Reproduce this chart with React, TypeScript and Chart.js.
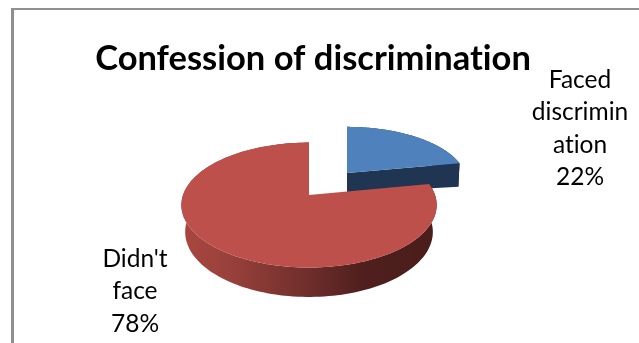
import React, { useEffect, useRef } from "react";
import { Chart, registerables } from "chart.js";

Chart.register(...registerables);

const categories = ["Faced discrimination", "Didn't face"];
const labelLines = [["Faced", "discrimin", "ation"], ["Didn't", "face"]];
const values = [22, 78];
const topColors = ["#4F81BD", "#BE504C"];
const titleText = "Confession of discrimination";

const FONT = "Lato, Carlito, 'Noto Sans', sans-serif";
const K = 0.161; // perspective strength
const S = 0.483; // vertical squash
const sliceGeom = [
  { dx: 34, dy: -22, r: 118, depth: 24, f: 0.99, sy: 0.94 },
  { dx: -4, dy: 0, r: 126, depth: 26.5, f: 0.97, sy: 1 },
];
const labelPos = [
  { x: 580, y: 80 },
  { x: 135, y: 259 },
];

function project(cx: number, cy: number, r: number, a: number, sy: number, f = 1, depth = 0) {
  const w = 1 - K * Math.sin(a);
  return {
    x: cx + (f * r * Math.cos(a)) / w,
    y: cy + (f * r * S * sy * Math.sin(a)) / w + depth / w,
  };
}

const pie3d = {
  id: "pie3d",
  beforeDraw(chart: any) {
    chart.ctx.textRendering = "optimizeSpeed";
  },
  beforeDatasetsDraw(chart: any) {
    const ctx: CanvasRenderingContext2D = chart.ctx;
    const arcs = chart.getDatasetMeta(0).data;
    arcs.forEach((arc: any, i: number) => {
      const g = sliceGeom[i];
      const cx = arc.x + g.dx;
      const cy = arc.y + g.dy;
      const a0 = arc.startAngle;
      const a1 = arc.endAngle;
      const N = 160;

      // Outer wall
      let wall: CanvasGradient | string;
      if (i === 1) {
        const lg = ctx.createLinearGradient(cx - g.r, 0, cx + g.r, 0);
        lg.addColorStop(0, "#A9473F");
        lg.addColorStop(0.2, "#97403B");
        lg.addColorStop(0.5, "#6E2E2B");
        lg.addColorStop(0.72, "#4E1F1D");
        lg.addColorStop(1, "#4A1D1B");
        wall = lg;
      } else {
        wall = "#1F3552";
      }
      ctx.fillStyle = wall;
      ctx.beginPath();
      for (let n = 0; n <= N; n++) {
        const a = a0 + ((a1 - a0) * n) / N;
        const p = project(cx, cy, g.r, a, g.sy);
        if (n === 0) ctx.moveTo(p.x, p.y);
        else ctx.lineTo(p.x, p.y);
      }
      for (let n = N; n >= 0; n--) {
        const a = a0 + ((a1 - a0) * n) / N;
        const p = project(cx, cy, g.r, a, g.sy, g.f, g.depth);
        ctx.lineTo(p.x, p.y);
      }
      ctx.closePath();
      ctx.fill();

      // Front-facing cut face of the exploded slice
      if (i === 0) {
        const e = project(cx, cy, g.r, a1, g.sy);
        const eb = project(cx, cy, g.r, a1, g.sy, g.f, g.depth);
        ctx.beginPath();
        ctx.moveTo(cx, cy);
        ctx.lineTo(e.x, e.y);
        ctx.lineTo(eb.x, eb.y);
        ctx.lineTo(cx, cy + g.depth - 4);
        ctx.closePath();
        ctx.fill();
      }

      // Top face
      ctx.fillStyle = arc.options.backgroundColor;
      ctx.beginPath();
      ctx.moveTo(cx, cy);
      for (let n = 0; n <= N; n++) {
        const a = a0 + ((a1 - a0) * n) / N;
        const p = project(cx, cy, g.r, a, g.sy);
        ctx.lineTo(p.x, p.y);
      }
      ctx.closePath();
      ctx.fill();
    });
    return false;
  },
  afterDraw(chart: any) {
    const ctx: CanvasRenderingContext2D = chart.ctx;
    const total = values.reduce((s, v) => s + v, 0);
    ctx.save();
    ctx.fillStyle = "#000";
    ctx.font = `24.5px ${FONT}`;
    ctx.textAlign = "center";
    ctx.textBaseline = "middle";
    values.forEach((v, i) => {
      const lines = [...labelLines[i], `${Math.round((v / total) * 100)}%`];
      lines.forEach((t, j) => ctx.fillText(t, labelPos[i].x, labelPos[i].y + j * 32.3));
    });
    ctx.restore();
  },
};

export default function App() {
  const ref = useRef<HTMLCanvasElement>(null);
  useEffect(() => {
    document.body.style.margin = "0";
    document.body.style.overflow = "hidden";
    document.body.style.background = "#fff";
    const chart = new Chart(ref.current!, {
      type: "pie",
      data: {
        labels: categories,
        datasets: [{ data: values, backgroundColor: topColors, borderWidth: 0 }],
      },
      options: {
        responsive: false,
        maintainAspectRatio: false,
        animation: false,
        layout: { padding: { left: 0, right: 13, top: 0, bottom: 29.5 } },
        plugins: {
          legend: { display: false },
          tooltip: { enabled: false },
          title: {
            display: true,
            text: titleText,
            color: "#000",
            font: { family: FONT, size: 34.5, weight: "bold", lineHeight: 1 },
            padding: { top: 42, bottom: 0 },
          },
        },
      },
      plugins: [pie3d],
    } as any);
    return () => chart.destroy();
  }, []);
  return (
    <div style={{ position: "fixed", left: 0, top: 0, width: 639, height: 343, background: "#fff", overflow: "hidden" }}>
      <canvas ref={ref} width={639} height={343} style={{ position: "absolute", left: 0, top: 0, display: "block" }} />
      <div
        style={{
          position: "absolute",
          left: 11,
          top: 8,
          width: 640,
          height: 350,
          borderLeft: "3px solid #8f8f8f",
          borderTop: "2px solid #8f8f8f",
          pointerEvents: "none",
        }}
      />
    </div>
  );
}
